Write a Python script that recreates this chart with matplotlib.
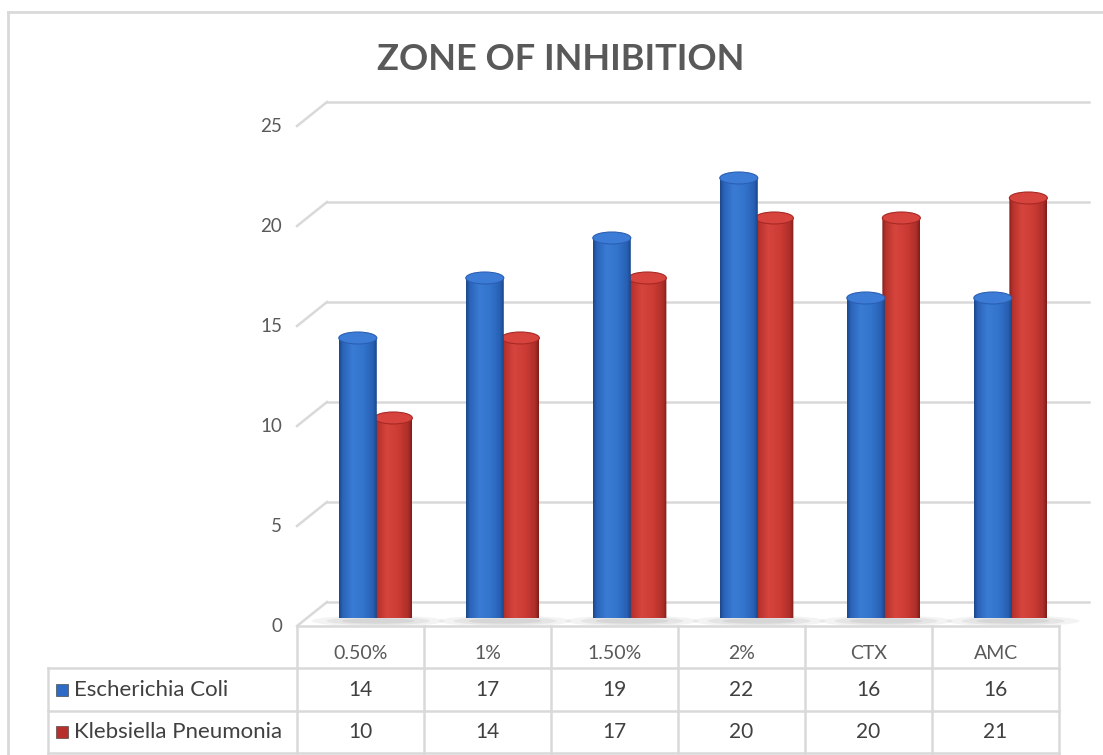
import matplotlib
matplotlib.use('Agg')
import matplotlib.pyplot as plt
import numpy as np
from matplotlib.colors import LinearSegmentedColormap
from matplotlib.patches import PathPatch, Ellipse
from matplotlib.path import Path
from matplotlib.lines import Line2D

plt.rcParams['font.family'] = ['Lato', 'DejaVu Sans']

# data
categories = ['0.50%', '1%', '1.50%', '2%', 'CTX', 'AMC']
series_names = ['Escherichia Coli', 'Klebsiella Pneumonia']
ecoli = [14, 17, 19, 22, 16, 16]
kleb = [10, 14, 17, 20, 20, 21]
yticks = [0, 5, 10, 15, 20, 25]

W, H = 1103, 755
fig = plt.figure(figsize=(W / 100, H / 100), dpi=100)
fig.patch.set_facecolor('white')

def px_box(x0, x1, ytop, ybot):
    return [x0 / W, 1 - ybot / H, (x1 - x0) / W, (ybot - ytop) / H]

# bar plane axes (cylinders sit here), 127 px per category, 20 px per unit
ax = fig.add_axes(px_box(307, 1069, 118, 618))
ax.set_xlim(-0.5, 5.5)
ax.set_ylim(0, 25)
ax.axis('off')
PXX, PXY = 127.0, 20.0
# 3d depth offsets (px) of back wall and front edge relative to bar plane
bdx, bdy = 20 / PXX, 16 / PXY
fdx, fdy = 10 / PXX, 8 / PXY

grid_c = '#d9d9d9'
text_c = '#595959'

# back wall gridlines + left side diagonals
for v in yticks:
    ax.add_line(Line2D([-0.5 + bdx, 5.5 + bdx], [v + bdy, v + bdy], color=grid_c, lw=1.8,
                       clip_on=False, zorder=1))
    ax.add_line(Line2D([-0.5 - fdx, -0.5 + bdx], [v - fdy, v + bdy], color=grid_c, lw=1.8,
                       clip_on=False, zorder=1))
    ax.text(-0.5 - fdx - 15 / PXX, v - fdy, str(v), ha='right', va='center',
            fontsize=13.5, color=text_c)

blue_cm = LinearSegmentedColormap.from_list('b', [(0, '#1b4788'), (0.1, '#2a63b8'), (0.35, '#3a7bd4'),
                                                  (0.65, '#3374cc'), (0.9, '#275fb3'), (1, '#1a4686')])
red_cm = LinearSegmentedColormap.from_list('r', [(0, '#84201d'), (0.1, '#b8322c'), (0.35, '#d6453d'),
                                                 (0.65, '#cc3b34'), (0.9, '#ad2f2a'), (1, '#7e1d1a')])

bw = 38 / PXX
eh = 12 / PXY
grad = np.linspace(0, 1, 256).reshape(1, -1)

def cylinder(xc, val, cmap, cap_face, cap_edge, z):
    x0, x1 = xc - bw / 2, xc + bw / 2
    t = np.linspace(np.pi, 2 * np.pi, 40)
    arc = np.column_stack([xc + bw / 2 * np.cos(t), eh / 2 * np.sin(t)])
    verts = np.vstack([[x0, val], [x0, 0], arc, [x1, 0], [x1, val], [x0, val]])
    codes = [Path.MOVETO] + [Path.LINETO] * (len(verts) - 2) + [Path.CLOSEPOLY]
    body = PathPatch(Path(verts, codes), transform=ax.transData, facecolor='none', edgecolor='none')
    ax.add_patch(body)
    im = ax.imshow(grad, cmap=cmap, extent=(x0, x1, -eh, val), aspect='auto',
                   interpolation='bilinear', zorder=z)
    im.set_clip_path(body)
    ax.add_patch(Ellipse((xc, val), bw, eh, facecolor=cap_face, edgecolor=cap_edge, lw=0.8,
                         zorder=z + 0.1))

x = np.arange(len(categories))
for i in range(len(categories)):
    # soft floor shadow under each pair
    for k, a in zip([1.0, 0.75, 0.5], [0.08, 0.1, 0.12]):
        ax.add_patch(Ellipse((x[i] + 0.06, -0.15), (2 * bw + 0.35) * k + 0.1, eh * 0.9 * k,
                             color='#707070', alpha=a, lw=0, zorder=2, clip_on=False))
    cylinder(x[i] + 0.18, kleb[i], red_cm, '#d6443d', '#a82824', 3 + i * 0.01)
    cylinder(x[i] - 0.1, ecoli[i], blue_cm, '#3d7cd6', '#2a5fb3', 4 + i * 0.01)
ax.set_xlim(-0.5, 5.5)
ax.set_ylim(0, 25)

# title
fig.text(561 / W, 1 - 60 / H, 'ZONE OF INHIBITION', ha='center', va='center',
         fontsize=26, fontweight='bold', color=text_c)

# data table
tax = fig.add_axes(px_box(48, 1059, 626, 753))
lab_w = (297 - 48) / PXX
tax.set_xlim(-0.5 - lab_w, 5.5)
tax.set_ylim(3, 0)
tax.axis('off')
lkw = dict(color=grid_c, lw=1.8, clip_on=False)
tax.add_line(Line2D([-0.5, 5.5], [0, 0], **lkw))
for r in [1, 2, 3]:
    tax.add_line(Line2D([-0.5 - lab_w, 5.5], [r, r], **lkw))
tax.add_line(Line2D([-0.5 - lab_w, -0.5 - lab_w], [1, 3], **lkw))
for c in range(len(categories) + 1):
    tax.add_line(Line2D([c - 0.5, c - 0.5], [0, 3], **lkw))

tab_c = '#404040'
for i, cat in enumerate(categories):
    tax.text(i, 0.65, cat, ha='center', va='center', fontsize=14, color=text_c)
    tax.text(i, 1.5, str(ecoli[i]), ha='center', va='center', fontsize=15, color=tab_c)
    tax.text(i, 2.5, str(kleb[i]), ha='center', va='center', fontsize=15, color=tab_c)

key_x = -0.5 - lab_w + 14 / PXX
for r, (name, col) in enumerate(zip(series_names, ['#2e6bc6', '#b8302b'])):
    tax.plot([key_x], [r + 1.5], marker='s', ms=8, color=col, mec='#333333', mew=0.4, clip_on=False)
    tax.text(key_x + 12 / PXX, r + 1.5, name, ha='left', va='center', fontsize=16, color=tab_c)

# chart border
fig.add_artist(Line2D([8 / W, 1], [1 - 12 / H, 1 - 12 / H], color=grid_c, lw=2,
                      transform=fig.transFigure))
fig.add_artist(Line2D([8 / W, 8 / W], [0, 1 - 12 / H], color=grid_c, lw=2,
                      transform=fig.transFigure))

fig.savefig('out.png', dpi=100)
